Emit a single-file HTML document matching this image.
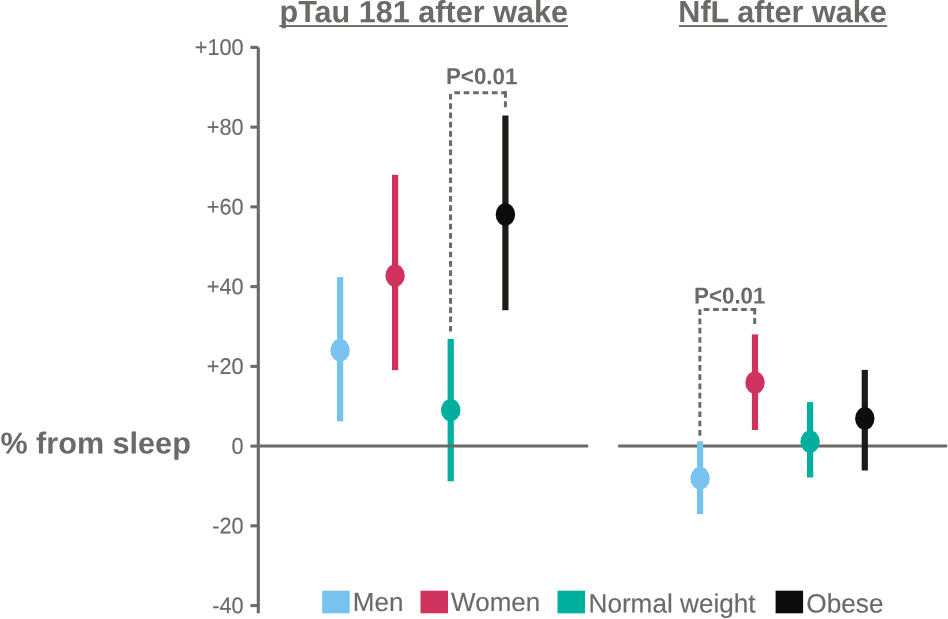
<!DOCTYPE html>
<html lang="en"><head><meta charset="utf-8"><title>chart</title>
<style>
html,body{margin:0;padding:0;background:#fff;}
body{width:948px;height:619px;overflow:hidden;font-family:"Liberation Sans",sans-serif;}
svg{display:block;}
text{text-rendering:geometricPrecision;font-family:"Liberation Sans",sans-serif;fill:#6c6a67;stroke:#6c6a67;stroke-width:0.15px;}
.b{font-weight:bold;stroke:none;}
</style></head><body>
<svg style="will-change:transform" width="948" height="619" viewBox="0 0 948 619">
<rect width="948" height="619" fill="#fff"/>

<text class="b" transform="translate(279.50 22.10) rotate(0.05) scale(1.0000 1.0000)" font-size="30.6">pTau 181 after wake</text>
<rect x="279.3" y="25.1" width="288.7" height="1.9" fill="#6c6a67"/>
<text class="b" transform="translate(678.30 22.10) rotate(0.05) scale(1.0000 1.0000)" font-size="30.6">NfL after wake</text>
<rect x="679.0" y="25.1" width="208.2" height="1.9" fill="#6c6a67"/>
<text class="b" transform="translate(0.40 453.40) rotate(0.05) scale(1.0000 0.9900)" font-size="30.6">% from sleep</text>
<path d="M258.3 47.4V613.2" fill="none" stroke="#6c6a67" stroke-width="3.1"/>
<path d="M250.4 47.40H258.3" stroke="#6c6a67" stroke-width="3.1"/>
<text text-anchor="end" transform="translate(243.55 55.05) rotate(0.05) scale(0.9850 1.0400)" font-size="22">+100</text>
<path d="M250.4 127.14H258.3" stroke="#6c6a67" stroke-width="3.1"/>
<text text-anchor="end" transform="translate(243.55 134.79) rotate(0.05) scale(0.9850 1.0400)" font-size="22">+80</text>
<path d="M250.4 206.88H258.3" stroke="#6c6a67" stroke-width="3.1"/>
<text text-anchor="end" transform="translate(243.55 214.53) rotate(0.05) scale(0.9850 1.0400)" font-size="22">+60</text>
<path d="M250.4 286.62H258.3" stroke="#6c6a67" stroke-width="3.1"/>
<text text-anchor="end" transform="translate(243.55 294.27) rotate(0.05) scale(0.9850 1.0400)" font-size="22">+40</text>
<path d="M250.4 366.36H258.3" stroke="#6c6a67" stroke-width="3.1"/>
<text text-anchor="end" transform="translate(243.55 374.01) rotate(0.05) scale(0.9850 1.0400)" font-size="22">+20</text>
<path d="M250.4 446.10H258.3" stroke="#6c6a67" stroke-width="3.1"/>
<text text-anchor="end" transform="translate(243.55 453.75) rotate(0.05) scale(0.9850 1.0400)" font-size="22">0</text>
<path d="M250.4 525.84H258.3" stroke="#6c6a67" stroke-width="3.1"/>
<text text-anchor="end" transform="translate(243.55 533.49) rotate(0.05) scale(0.9850 1.0400)" font-size="22">-20</text>
<path d="M250.4 605.58H258.3" stroke="#6c6a67" stroke-width="3.1"/>
<text text-anchor="end" transform="translate(243.55 613.23) rotate(0.05) scale(0.9850 1.0400)" font-size="22">-40</text>
<rect x="337.00" y="277.10" width="6.2" height="144.30" fill="#75c3ee"/>
<rect x="392.00" y="174.80" width="6.2" height="195.40" fill="#cf325d"/>
<rect x="447.60" y="339.00" width="6.2" height="142.30" fill="#00b09e"/>
<rect x="502.30" y="115.50" width="6.2" height="194.70" fill="#1e1a17"/>
<path d="M258 446.1H588.2M618.1 446.1H947.2" stroke="#6c6a67" stroke-width="3"/>
<rect x="697.00" y="441.30" width="6.2" height="72.80" fill="#75c3ee"/>
<rect x="751.90" y="334.40" width="6.2" height="95.60" fill="#cf325d"/>
<rect x="807.00" y="402.10" width="6.2" height="75.40" fill="#00b09e"/>
<rect x="861.70" y="369.90" width="6.2" height="100.60" fill="#1e1a17"/>
<ellipse cx="340.10" cy="350.30" rx="9.7" ry="11.2" fill="#75c3ee"/>
<ellipse cx="395.10" cy="275.60" rx="9.7" ry="11.2" fill="#cf325d"/>
<ellipse cx="450.70" cy="410.20" rx="9.7" ry="11.2" fill="#00b09e"/>
<ellipse cx="505.40" cy="214.50" rx="9.7" ry="11.2" fill="#0a0c0e"/>
<ellipse cx="700.10" cy="478.30" rx="9.7" ry="11.2" fill="#75c3ee"/>
<ellipse cx="755.00" cy="382.60" rx="9.7" ry="11.2" fill="#cf325d"/>
<ellipse cx="810.10" cy="441.60" rx="9.7" ry="11.2" fill="#00b09e"/>
<ellipse cx="864.80" cy="418.50" rx="9.7" ry="11.2" fill="#0a0c0e"/>
<g fill="none" stroke="#6c6a67" stroke-width="3">
<path d="M450.55 93.90V331.80" stroke-dasharray="5.7 3.58"/>
<path d="M454.35 92.66H506.80" stroke-dasharray="5.7 3.67"/>
<path d="M505.40 91.26V97.80M505.40 101.30V107.20"/>
</g>
<g fill="none" stroke="#6c6a67" stroke-width="3">
<path d="M699.85 309.30V437.00" stroke-dasharray="5.7 3.58"/>
<path d="M703.65 309.46H756.10" stroke-dasharray="5.7 3.67"/>
<path d="M754.70 308.06V314.60M754.70 318.10V324.00"/>
</g>
<text class="b" transform="translate(446.00 84.10) rotate(0.05) scale(1.0000 1.0350)" font-size="22.3">P&lt;0.01</text>
<text class="b" transform="translate(694.10 303.50) rotate(0.05) scale(1.0000 1.0350)" font-size="22.3">P&lt;0.01</text>
<rect x="322.2" y="590.7" width="27.5" height="22.6" fill="#75c3ee"/>
<text transform="translate(352.80 610.90) rotate(0.05) scale(1.0000 1.0100)" font-size="26">Men</text>
<rect x="420.5" y="590.7" width="27.5" height="22.6" fill="#cf325d"/>
<text transform="translate(451.10 610.90) rotate(0.05) scale(1.0000 1.0100)" font-size="26">Women</text>
<rect x="557.5" y="590.7" width="27.5" height="22.6" fill="#00b09e"/>
<text transform="translate(588.50 612.40) rotate(0.05) scale(1.0000 1.0100)" font-size="26.15">Normal weight</text>
<rect x="775.6" y="590.7" width="27.5" height="22.6" fill="#0a0c0e"/>
<text transform="translate(806.30 612.40) rotate(0.05) scale(1.0000 1.0100)" font-size="26.2">Obese</text>
</svg>
</body></html>
